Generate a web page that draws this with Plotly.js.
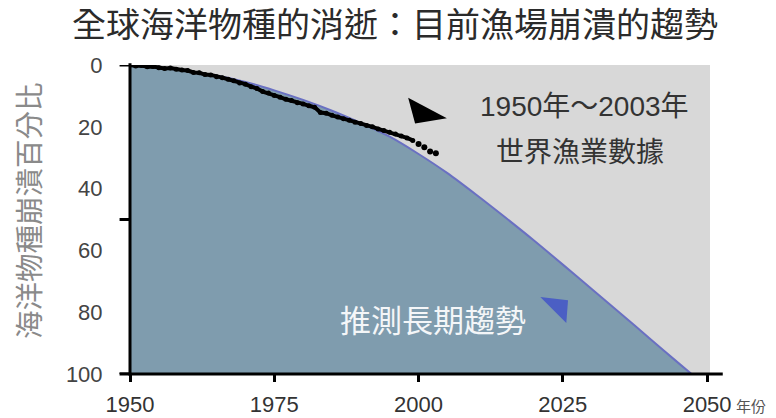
<!DOCTYPE html>
<html>
<head>
<meta charset="utf-8">
<script src="https://cdn.plot.ly/plotly-3.0.1.min.js"></script>
<style>html,body{margin:0;padding:0;background:#fff;}#chart{width:776px;height:418px;}</style>
</head>
<body>
<div id="chart"></div>
<script>
// ---- data ----
const dataYears = [1950,1951,1952,1953,1954,1955,1956,1957,1958,1959,1960,1961,1962,1963,1964,1965,1966,1967,1968,1969,1970,1971,1972,1973,1974,1975,1976,1977,1978,1979,1980,1981,1982,1983,1984,1985,1986,1987,1988,1989,1990,1991,1992,1993,1994,1995,1996,1997,1998,1999];
const dataCollapse = [0,0.3,0.2,0.6,0.5,0.9,1.1,1.0,1.4,1.6,1.8,2.4,2.5,3.1,3.2,3.8,4.1,4.6,5.1,5.8,6.2,7.0,7.6,8.6,9.1,9.9,10.4,11.1,11.5,12.2,12.6,13.2,13.7,15.4,15.6,16.3,16.8,17.4,17.9,18.5,18.9,19.6,20.0,20.7,21.2,21.8,22.3,23.0,23.6,24.4];
const dotYears = [2000,2001,2002,2003];
const dotCollapse = [25.6,26.6,28.0,28.6];
const trendYears = [1950,1955,1960,1965,1970,1975,1980,1985,1990,1995,2000,2005,2010,2015,2020,2025,2030,2035,2040,2045,2047.3];
const trendCollapse = [0,0.8,2,3.5,5.5,8.2,11.3,14.8,18.8,23.2,28.8,35.0,42.0,49.3,56.8,64.6,72.5,80.4,88.4,96.4,100];
const baseYears = [1950,2047.3];
const baseCollapse = [100,100];
const xTicks = [1950,1975,2000,2025,2050];
const yTickLabels = [0,20,40,60,80,100];
const yMarkTicks = [0,50,100];

const titleText = '全球海洋物種的消逝：目前漁場崩潰的趨勢';
const yTitle = '海洋物種崩潰百分比';
const xUnit = '年份';
const noteLine1 = '1950年～2003年';
const noteLine2 = '世界漁業數據';
const trendNote = '推測長期趨勢';

const FONT = 'Liberation Sans, Arial, Noto Sans CJK TC, sans-serif';
const CJK = 'Noto Sans CJK TC, sans-serif';

const traces = [
  {x: baseYears, y: baseCollapse, mode: 'lines', line: {width: 0, color: 'rgba(0,0,0,0)'}, hoverinfo: 'skip', showlegend: false},
  {x: trendYears, y: trendCollapse, mode: 'lines', fill: 'tonexty', fillcolor: '#7f9cae',
   line: {color: '#6a70c2', width: 2, shape: 'spline', smoothing: 0.8}, showlegend: false},
  {x: dataYears, y: dataCollapse, mode: 'lines+markers', line: {color: '#000', width: 4},
   marker: {color: '#000', size: 5}, showlegend: false},
  {x: dotYears, y: dotCollapse, mode: 'markers', marker: {color: '#000', size: 6}, showlegend: false}
];

// y tick marks at 0/50/100
const shapes = yMarkTicks.map(v => ({type: 'line', xref: 'paper', yref: 'y', x0: -0.018, x1: 0, y0: v, y1: v, line: {color: '#000', width: 3}}));
// axis lines
shapes.push({type: 'line', xref: 'paper', yref: 'paper', x0: -0.018, x1: 1.022, y0: 0, y1: 0, line: {color: '#000', width: 3}});
shapes.push({type: 'line', xref: 'paper', yref: 'paper', x0: 0, x1: 0, y0: -0.006, y1: 1.006, line: {color: '#000', width: 3}});
// pointer triangles
shapes.push({type: 'path', xref: 'x', yref: 'y', path: 'M1998.2,10.6 L2004.9,17.2 L1999.4,18.9 Z', fillcolor: '#000', line: {width: 0}});
shapes.push({type: 'path', xref: 'x', yref: 'y', path: 'M2021.1,75.1 L2025.9,76.1 L2025.6,83.5 Z', fillcolor: '#4b5fc4', line: {width: 0}});

const annotations = [
  {xref: 'paper', yref: 'paper', x: (27-130)/580, y: (374-211)/309, text: yTitle, textangle: -90, showarrow: false,
   font: {family: CJK, size: 28.5, color: '#8a8a8a'}, xanchor: 'center', yanchor: 'middle'},
  {xref: 'paper', yref: 'paper', x: (751-130)/580, y: (374-405)/309, text: xUnit, showarrow: false,
   font: {family: CJK, size: 15, color: '#555'}, xanchor: 'center', yanchor: 'middle'},
  {xref: 'paper', yref: 'paper', x: (584-130)/580, y: (374-106)/309, text: noteLine1, showarrow: false,
   font: {family: FONT, size: 28, color: '#333'}, xanchor: 'center', yanchor: 'middle'},
  {xref: 'paper', yref: 'paper', x: (580-130)/580, y: (374-150)/309, text: noteLine2, showarrow: false,
   font: {family: CJK, size: 28, color: '#333'}, xanchor: 'center', yanchor: 'middle'},
  {xref: 'paper', yref: 'paper', x: (433-130)/580, y: (374-318)/309, text: trendNote, showarrow: false,
   font: {family: CJK, size: 31, color: '#f4f6f8'}, xanchor: 'center', yanchor: 'middle'}
];

const layout = {
  width: 776, height: 418,
  margin: {l: 130, r: 66, t: 65, b: 44},
  paper_bgcolor: '#ffffff', plot_bgcolor: '#d8d8d8',
  title: {text: titleText, x: 395/776, xanchor: 'center', xref: 'container', y: 1 - 25/418, yanchor: 'middle', yref: 'container',
          font: {family: CJK, size: 34, color: '#2b2b2b'}},
  xaxis: {range: [1950, 2050.5], tickvals: xTicks, ticks: 'outside', ticklen: 7, tickwidth: 3, tickcolor: '#000',
          ticklabelstandoff: 4,
          showgrid: false, zeroline: false, showline: false, tickfont: {family: FONT, size: 22, color: '#333'}},
  yaxis: {range: [100, 0], tickvals: yTickLabels, ticks: 'outside', ticklen: 22, tickcolor: 'rgba(0,0,0,0)',
          showgrid: false, zeroline: false, showline: false, tickfont: {family: FONT, size: 22, color: '#444'}},
  shapes: shapes, annotations: annotations, showlegend: false
};

Plotly.newPlot('chart', traces, layout, {displayModeBar: false, staticPlot: true});
</script>
</body>
</html>
